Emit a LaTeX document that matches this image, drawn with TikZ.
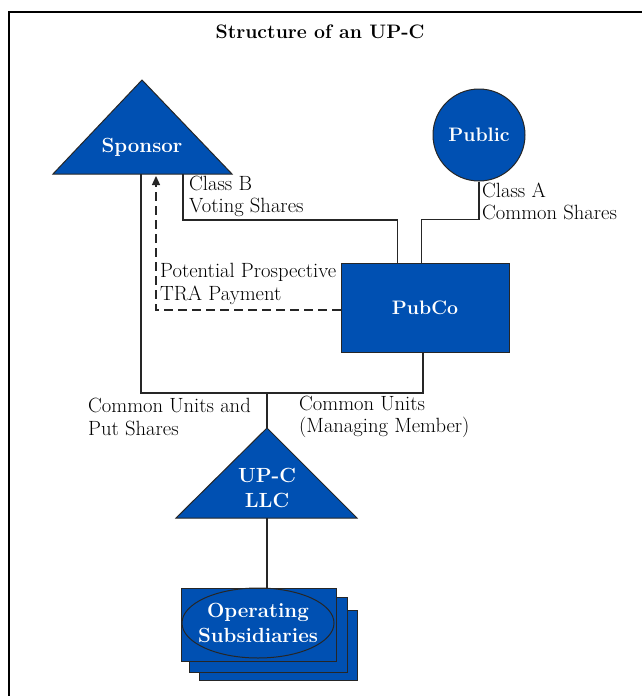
\documentclass[tikz,border=0pt]{standalone}
\usepackage{fontspec}
\usetikzlibrary{arrows.meta,calc,shapes.geometric}
\definecolor{upblue}{RGB}{0,80,178}
\begin{document}
\begin{tikzpicture}[x=1pt,y=-1pt,
  conn/.style={line width=1.3pt, draw=black!85},
  shapebox/.style={fill=upblue, draw=black!85, line width=1pt},
  lbl/.style={font=\fontsize{20.6}{22.5}\selectfont, align=left, anchor=west, inner sep=0pt},
  wtxt/.style={font=\fontsize{20.5}{25}\selectfont\bfseries, text=white, align=center, inner sep=0pt}]
\useasboundingbox (0,0) rectangle (642,696);
\fill[white] (0,0) rectangle (642,696);
\draw[line width=2.2pt] (9,696) -- (9,12) -- (642,12);
\node[font=\fontsize{19.5}{24}\selectfont\bfseries] (title) at (320,32) {Structure of an UP-C};

% coordinates on the triangles
\coordinate (spL) at (141,174);
\coordinate (spB) at (183,174);
\coordinate (spT) at (156,176);
\coordinate (join) at (267,393);
\coordinate (llcTop) at (267,428);
\coordinate (llcBot) at (267,518);

% shapes
\filldraw[shapebox] (53,174) -- (142,80) -- (232,174) -- cycle;
\node[wtxt] (sponsor) at (142,147) {Sponsor};

\node[shapebox, circle, minimum size=92pt, inner sep=0pt, text=white,
      font=\fontsize{19.5}{25}\selectfont\bfseries] (public) at (479,135) {Public};

\node[shapebox, rectangle, minimum width=168pt, minimum height=89pt, text=white,
      font=\fontsize{19.5}{25}\selectfont\bfseries] (pubco) at (425,307.5) {PubCo};

\filldraw[shapebox] (176,518) -- (267,428) -- (357,518) -- cycle;
\node[wtxt] (llc) at (267,488) {UP-C\\LLC};

\node[shapebox, rectangle, minimum width=158pt, minimum height=70pt] (sub3) at (278,645) {};
\node[shapebox, rectangle, minimum width=158pt, minimum height=75pt] (sub2) at (268,634.5) {};
\node[shapebox, rectangle, minimum width=155pt, minimum height=73pt] (sub1) at (258.5,624.5) {};
\node[ellipse, draw=black!85, line width=1pt, minimum width=152pt, minimum height=70pt,
      inner sep=0pt] (ell) at (258,623) {};
\node[wtxt, font=\fontsize{20.5}{25}\selectfont\bfseries] (subtxt) at (258,623) {Operating\\Subsidiaries};

% connectors
\draw[conn] (spB) -- ++(0,46) -| ([xshift=57pt]pubco.north west);
\draw[conn] (public.south) -- ++(0,38) -| ([xshift=81pt]pubco.north west);
\draw[conn] (spL) -- (spL |- join) -| ([xshift=-2pt]pubco.south);
\draw[conn] (join) -- (llcTop);
\draw[conn] (llcBot) -- (llcBot |- sub1.north);
\draw[conn, dash pattern=on 9pt off 5pt, -{Triangle[length=9pt,width=8pt]}]
  (pubco.west |- 0,310) -| (spT);

% labels
\node[lbl] (lb) at (189,196.5) {Class B\\Voting Shares};
\node[lbl] (la) at (482,201.5) {Class A\\Common Shares};
\node[lbl] (lt) at (160,284) {Potential Prospective\\TRA Payment};
\node[lbl] (lcu) at (88,417) {Common Units and\\Put Shares};
\node[lbl] (lmm) at (299,417) {Common Units\\(Managing Member)};
\end{tikzpicture}
\end{document}
